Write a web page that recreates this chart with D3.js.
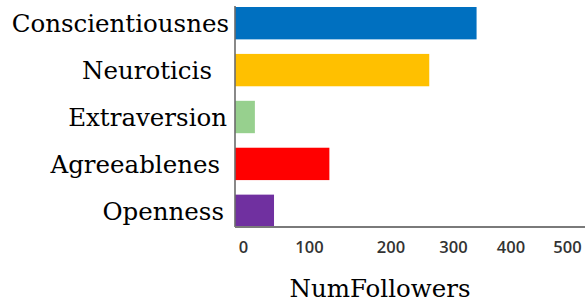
<!DOCTYPE html>
<html>
<head>
<meta charset="utf-8">
<script src="https://cdn.jsdelivr.net/npm/d3@7"></script>
<style>
  html, body { margin: 0; padding: 0; background: #fff; }
  svg { display: block; }
</style>
</head>
<body>
<svg id="chart" width="585" height="303"></svg>
<script>
// data
const traits = ["Conscientiousnes", "Neuroticis", "Extraversion", "Agreeablenes", "Openness"];
const followers = [341, 262, 18, 125, 47];
const barColors = ["#0070c0", "#ffc000", "#97d08e", "#ff0000", "#7030a0"];
const tickValues = [0, 100, 200, 300, 400, 500];

// the tick labels in the original are not evenly spaced, so the x scale
// is piecewise linear through where each label sits
const tickPos = [243, 309, 390.5, 453, 510.5, 567];

// labels are hand placed, not all right aligned at the same x
const labelEnd = [229, 212, 227, 220, 224];

const axisX = 235;
const axisY = 227;

const svg = d3.select("#chart");

const xScale = d3.scaleLinear()
  .domain(tickValues)
  .range(tickPos);

const yScale = d3.scaleBand()
  .domain(traits)
  .range([7, axisY])
  .paddingInner(0.31)
  .paddingOuter(0);

// bars
svg.append("g")
  .selectAll("rect")
  .data(traits)
  .enter()
  .append("rect")
  .attr("x", axisX)
  .attr("y", d => yScale(d))
  .attr("width", (d, i) => xScale(followers[i]) - axisX)
  .attr("height", yScale.bandwidth())
  .style("fill", (d, i) => barColors[i]);

// axis lines
svg.append("line")
  .attr("x1", axisX).attr("x2", axisX)
  .attr("y1", 6).attr("y2", axisY)
  .style("stroke", "#6b6b6b")
  .style("stroke-width", 1.6);

svg.append("line")
  .attr("x1", axisX).attr("x2", 585)
  .attr("y1", axisY).attr("y2", axisY)
  .style("stroke", "#7a7a7a")
  .style("stroke-width", 1.8);

// x axis tick labels
const xAxis = svg.append("g")
  .attr("transform", `translate(0, ${axisY})`)
  .call(d3.axisBottom(xScale).tickValues(tickValues).tickSize(0).tickPadding(14.5));

xAxis.select(".domain").remove();
xAxis.selectAll("text")
  .style("font-family", "'Open Sans', sans-serif")
  .style("font-size", "16.5px")
  .style("font-weight", 600)
  .style("fill", "#333");

// category labels
svg.append("g")
  .selectAll("text")
  .data(traits)
  .enter()
  .append("text")
  .attr("x", (d, i) => labelEnd[i])
  .attr("y", d => yScale(d) + yScale.bandwidth() / 2)
  .attr("dy", "0.36em")
  .attr("text-anchor", "end")
  .style("font-family", "'DejaVu Serif', serif")
  .style("font-size", "24.5px")
  .style("fill", "#000")
  .text(d => d);

// axis title
svg.append("text")
  .attr("x", 380)
  .attr("y", 297)
  .attr("text-anchor", "middle")
  .style("font-family", "'DejaVu Serif', serif")
  .style("font-size", "24.5px")
  .style("fill", "#000")
  .text("NumFollowers");
</script>
</body>
</html>
